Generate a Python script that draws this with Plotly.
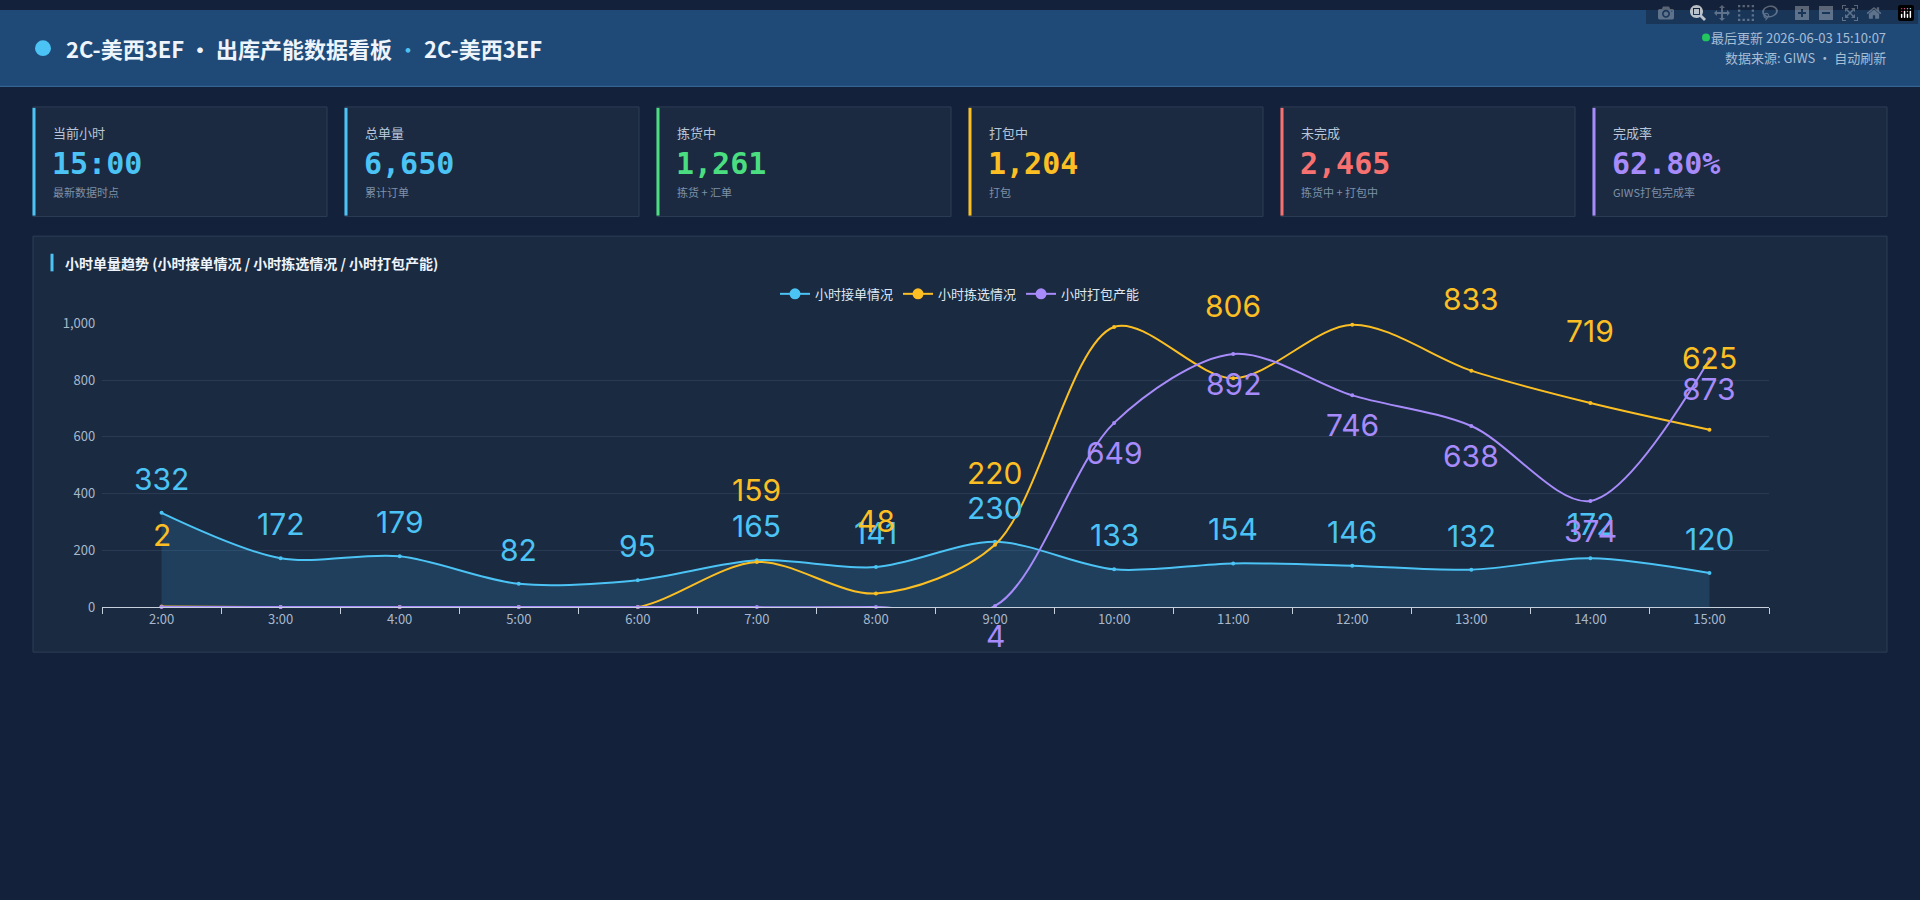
import plotly.graph_objects as go

hours = ["2:00","3:00","4:00","5:00","6:00","7:00","8:00","9:00","10:00","11:00","12:00","13:00","14:00","15:00"]
orders = [332,172,179,82,95,165,141,230,133,154,146,132,172,120]
picking = [2,0,0,0,0,159,48,220,987,806,995,833,719,625]
packing = [0,0,0,0,0,0,0,4,649,892,746,638,374,873]
pick_label_hidden = [False,True,True,True,True,False,False,False,True,False,True,False,False,False]

card_titles = ["当前小时","总单量","拣货中","打包中","未完成","完成率"]
card_values = ["15:00","6,650","1,261","1,204","2,465","62.80%"]
card_subs = ["最新数据时点","累计订单","拣货 + 汇单","打包","拣货中 + 打包中","GIWS打包完成率"]
card_colors = ["#4cc3f5","#4cc3f5","#4ade80","#fbbf24","#f87171","#a78bfa"]

W, H = 1920, 900
BLUE, YEL, PUR = "#4cc3f5", "#fbbf24", "#a78bfa"
FONT = "Noto Sans CJK SC"
LBL = "Inter"

def px(x): return x / W
def py(y): return 1 - y / H

fig = go.Figure()
series = [("小时接单情况", orders, BLUE), ("小时拣选情况", picking, YEL), ("小时打包产能", packing, PUR)]
for name, vals, col in series:
    fig.add_trace(go.Scatter(x=hours, y=vals, name=name, mode="lines+markers", showlegend=False,
        line=dict(color=col, width=2, shape="spline", smoothing=0.9), marker=dict(size=4, color=col),
        fill="tozeroy" if col == BLUE else None, fillcolor="rgba(56,160,220,0.18)", cliponaxis=False))
for name, vals, col in series:
    fig.add_trace(go.Scatter(x=[None], y=[None], name=name, mode="lines+markers",
        line=dict(color=col, width=2), marker=dict(size=11, color=col)))

ann = []
for h, v in zip(hours, orders):
    ann.append(dict(x=h, y=v, xref="x", yref="y", text=str(v), showarrow=False, yshift=34,
                    font=dict(size=30, color=BLUE, family=LBL)))
for h, v, hid in zip(hours, picking, pick_label_hidden):
    if not hid:
        ann.append(dict(x=h, y=v, xref="x", yref="y", text=str(v), showarrow=False, yshift=72,
                        font=dict(size=30, color=YEL, family=LBL)))
for h, v in zip(hours, packing):
    if v:
        ann.append(dict(x=h, y=v, xref="x", yref="y", text=str(v), showarrow=False, yshift=-30,
                        font=dict(size=30, color=PUR, family=LBL)))

shapes = []
shapes.append(dict(type="rect", xref="paper", yref="paper", x0=0, x1=1, y0=py(78), y1=1,
                   fillcolor="#1f4a78", line_width=0, layer="below"))
shapes.append(dict(type="line", xref="paper", yref="paper", x0=0, x1=1, y0=py(78), y1=py(78),
                   line=dict(color="#3a6ea0", width=1), layer="below"))
shapes.append(dict(type="circle", xref="paper", yref="paper", x0=px(35), x1=px(51), y0=py(47), y1=py(31),
                   fillcolor="#4cc3f5", line_width=0))
shapes.append(dict(type="circle", xref="paper", yref="paper", x0=px(1702), x1=px(1710), y0=py(32), y1=py(24),
                   fillcolor="#22c55e", line_width=0))
ann.append(dict(x=px(64), y=py(39), xref="paper", yref="paper", text="<b>2C-美西3EF · 出库产能数据看板</b> <span style='color:#4cc3f5'>·</span> <b>2C-美西3EF</b>",
                showarrow=False, xanchor="left", yanchor="middle", font=dict(size=22, color="#eef4fb", family=FONT)))
ann.append(dict(x=px(1888), y=py(28), xref="paper", yref="paper", text="最后更新 2026-06-03 15:10:07",
                showarrow=False, xanchor="right", yanchor="middle", font=dict(size=13, color="#a8bdd4", family=FONT)))
ann.append(dict(x=px(1888), y=py(49), xref="paper", yref="paper", text="数据来源: GIWS · 自动刷新",
                showarrow=False, xanchor="right", yanchor="middle", font=dict(size=13, color="#a8bdd4", family=FONT)))
for i, (t, v, s, c) in enumerate(zip(card_titles, card_values, card_subs, card_colors)):
    x0 = 33 + i * 312
    shapes.append(dict(type="rect", xref="paper", yref="paper", x0=px(x0), x1=px(x0 + 294), y0=py(211), y1=py(99),
                       fillcolor="#1b2a40", line=dict(color="#2c3d55", width=1), layer="below"))
    shapes.append(dict(type="line", xref="paper", yref="paper", x0=px(x0 + 1), x1=px(x0 + 1), y0=py(210), y1=py(100),
                       line=dict(color=c, width=3)))
    ann.append(dict(x=px(x0 + 18), y=py(125), xref="paper", yref="paper", text=t, showarrow=False,
                    xanchor="left", yanchor="middle", font=dict(size=13, color="#b7c6d8", family=FONT)))
    ann.append(dict(x=px(x0 + 17), y=py(157), xref="paper", yref="paper", text="<b>" + v + "</b>", showarrow=False,
                    xanchor="left", yanchor="middle", font=dict(size=30, color=c, family="DejaVu Sans Mono")))
    ann.append(dict(x=px(x0 + 18), y=py(186), xref="paper", yref="paper", text=s, showarrow=False,
                    xanchor="left", yanchor="middle", font=dict(size=11, color="#7f91a8", family=FONT)))
shapes.append(dict(type="rect", xref="paper", yref="paper", x0=px(33), x1=px(1887), y0=py(656), y1=py(231),
                   fillcolor="#1a2a40", line=dict(color="#2c3d55", width=1), layer="below"))
shapes.append(dict(type="line", xref="paper", yref="paper", x0=px(52), x1=px(52), y0=py(267), y1=py(249),
                   line=dict(color="#4cc3f5", width=3)))
ann.append(dict(x=px(63), y=py(258), xref="paper", yref="paper", text="<b>小时单量趋势 (小时接单情况 / 小时拣选情况 / 小时打包产能)</b>",
                showarrow=False, xanchor="left", yanchor="middle", font=dict(size=14, color="#eef4fb", family=FONT)))

fig.update_layout(
    width=W, height=H, margin=dict(l=0, r=0, t=0, b=0),
    paper_bgcolor="#13223a", plot_bgcolor="rgba(0,0,0,0)",
    font=dict(family=FONT, color="#c9d6e6"),
    shapes=shapes, annotations=ann,
    legend=dict(orientation="h", x=0.5, xanchor="center", y=py(290), yanchor="middle",
                font=dict(size=13, color="#dfe8f3", family=FONT), bgcolor="rgba(0,0,0,0)", itemwidth=30),
    xaxis=dict(domain=[px(102), px(1769)], type="category", range=[-0.5, 13.5], showgrid=False,
               showline=True, linecolor="#c6d0dc", ticks="outside", tickson="boundaries", ticklen=6,
               tickcolor="#c6d0dc", tickfont=dict(size=13, color="#a8b8cc"), anchor="y"),
    yaxis=dict(domain=[py(610), py(320)], range=[0, 1000], dtick=200, tickformat=",",
               gridcolor="#2a3a52", zeroline=False, showline=False,
               tickfont=dict(size=13, color="#a8b8cc"), ticksuffix="  "),
)
fig.write_html("out.html", post_script="document.body.style.margin='0';document.body.style.background='#13223a';document.body.style.overflow='hidden';")
